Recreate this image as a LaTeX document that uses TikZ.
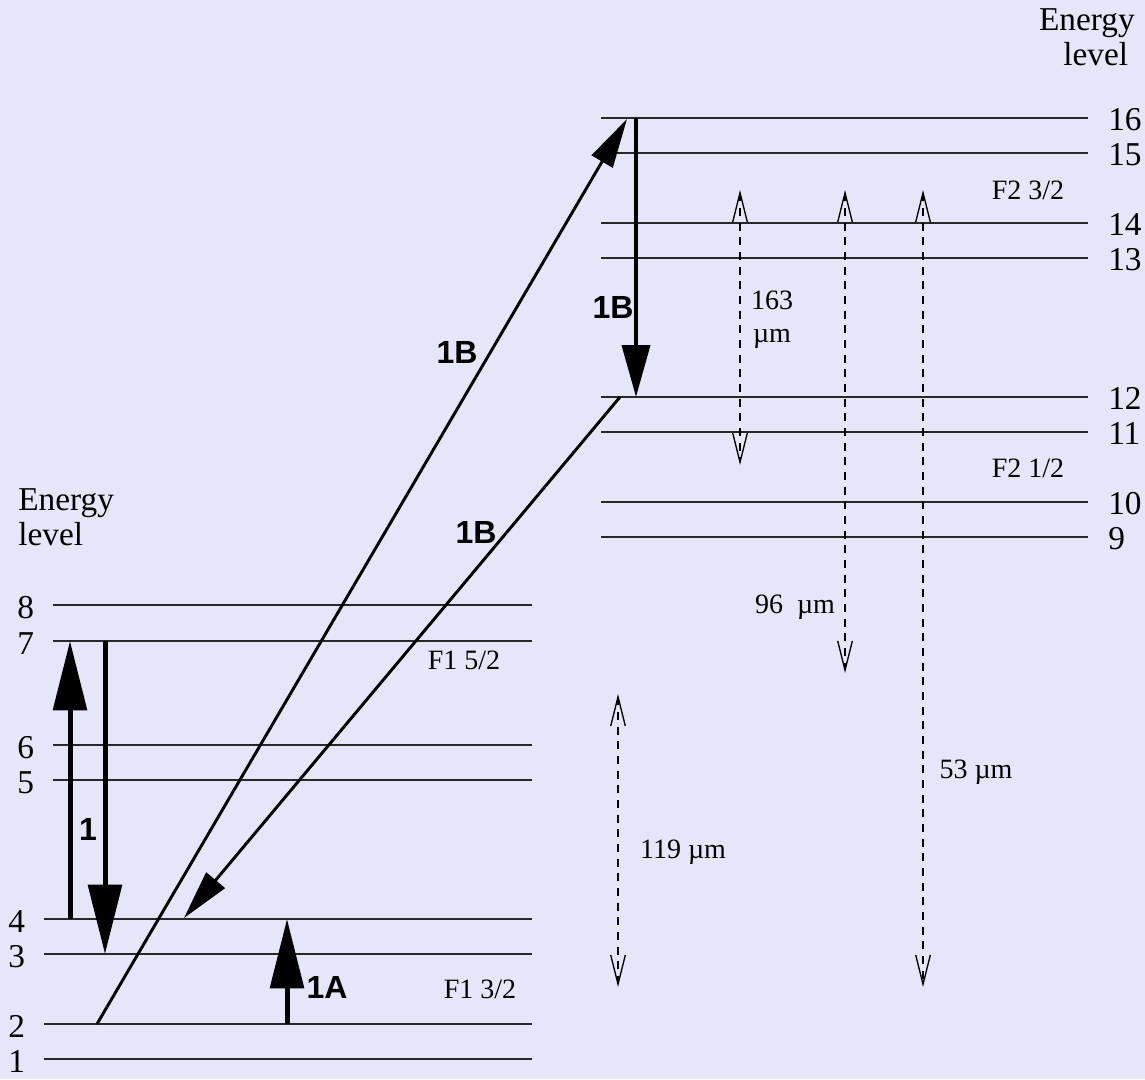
\documentclass[tikz,border=0pt]{standalone}
\usepackage{fontspec}
\setmainfont{Liberation Serif}
\newfontfamily\beamfont{Liberation Sans}
\usetikzlibrary{positioning,arrows.meta}
\definecolor{bgcol}{RGB}{230,230,250}
\definecolor{linecol}{RGB}{40,40,40}
\tikzset{
  level/.style={draw=linecol, line width=0.9pt},
  lvlnum/.style={inner sep=0pt, font=\fontsize{25}{26}\selectfont},
  tag/.style={inner sep=0pt, align=center, font=\fontsize{21}{25}\selectfont},
  beam/.style={inner sep=0pt, font=\beamfont\bfseries\fontsize{24}{28}\selectfont},
  pump/.style={-{Triangle[length=52pt,width=25pt]}, line width=3.75pt},
  slant/.style={-{Triangle[length=37pt,width=18pt]}, line width=2.2pt},
  decay/.style={-{Triangle[length=39pt,width=21pt]}, line width=3pt},
  wave/.style={{Straight Barb[length=22pt,width=11pt]}-{Straight Barb[length=22pt,width=11pt]}, line width=1pt, dash pattern=on 6pt off 5pt}
}
\begin{document}
\begin{tikzpicture}[x=0.75pt, y=-0.75pt]
  \path[use as bounding box, fill=bgcol] (0,0) rectangle (1145,1079);

  % F1 levels
  \foreach \n/\x/\y in {1/44/1059, 2/44/1024, 3/44/954, 4/44/919, 5/53/780, 6/53/745, 7/53/641, 8/53/605}{
    \draw[level] (\x,\y) coordinate (s\n) -- (532,\y) coordinate (e\n);
    \node[lvlnum, left=14pt of s\n, yshift=-2pt] (n\n) {\n};
  }
  % F2 levels
  \foreach \n/\y in {9/537, 10/502, 11/432, 12/397, 13/258, 14/223, 15/153, 16/118}{
    \draw[level] (601,\y) coordinate (s\n) -- (1088,\y) coordinate (e\n);
    \node[lvlnum, right=15pt of e\n, yshift=-1pt] (n\n) {\n};
  }

  \node[lvlnum, align=left, anchor=base west] (eleft) at (18,545) {Energy\\level};
  \node[lvlnum, align=right, anchor=base east] (eright) at (1135,65) {Energy\\level\kern5pt};

  % pump and decay arrows
  \coordinate (a7) at (70,641);  \coordinate (a4) at (70,919);
  \coordinate (b7) at (105,641); \coordinate (b3) at (105,954);
  \coordinate (c2) at (287,1024); \coordinate (c4) at (287,919);
  \draw[pump] (a4) -- (a7);
  \draw[pump] (b7) -- (b3);
  \draw[pump] (c2) -- (c4);
  \node[beam] (lab1) at (88,829) {1};
  \node[beam] (lab1A) at (327,987) {1A};

  \coordinate (d2) at (97,1024);  \coordinate (d16) at (627,119);
  \coordinate (f12) at (620,397); \coordinate (f4) at (184,918);
  \coordinate (g16) at (636,118); \coordinate (g12) at (636,397);
  \draw[slant] (d2) -- (d16);
  \draw[slant] (f12) -- (f4);
  \draw[decay] (g16) -- (g12);
  \node[beam] (lab1Bup) at (457,352) {1B};
  \node[beam] (lab1Bdn) at (476,532) {1B};
  \node[beam] (lab1Bv) at (613,307) {1B};

  % far-infrared lines
  \coordinate (w1t) at (740,190); \coordinate (w1b) at (740,465);
  \coordinate (w2t) at (845,190); \coordinate (w2b) at (845,673);
  \coordinate (w3t) at (923,190); \coordinate (w3b) at (923,987);
  \coordinate (w4t) at (618,694); \coordinate (w4b) at (618,987);
  \draw[wave] (w1t) -- (w1b);
  \draw[wave] (w2t) -- (w2b);
  \draw[wave] (w3t) -- (w3b);
  \draw[wave] (w4t) -- (w4b);
  \node[tag] (t163) at (772,320) {163\\ µm};
  \node[tag] (t96) at (795,607) {96\ \ µm};
  \node[tag] (t53) at (976,772) {53 µm};
  \node[tag] (t119) at (683,852) {119 µm};

  \node[tag] (f52) at (464,660) {F1 5/2};
  \node[tag] (f32) at (480,989) {F1 3/2};
  \node[tag] (g32) at (1028,190) {F2 3/2};
  \node[tag] (g12l) at (1028,468) {F2 1/2};
\end{tikzpicture}
\end{document}
